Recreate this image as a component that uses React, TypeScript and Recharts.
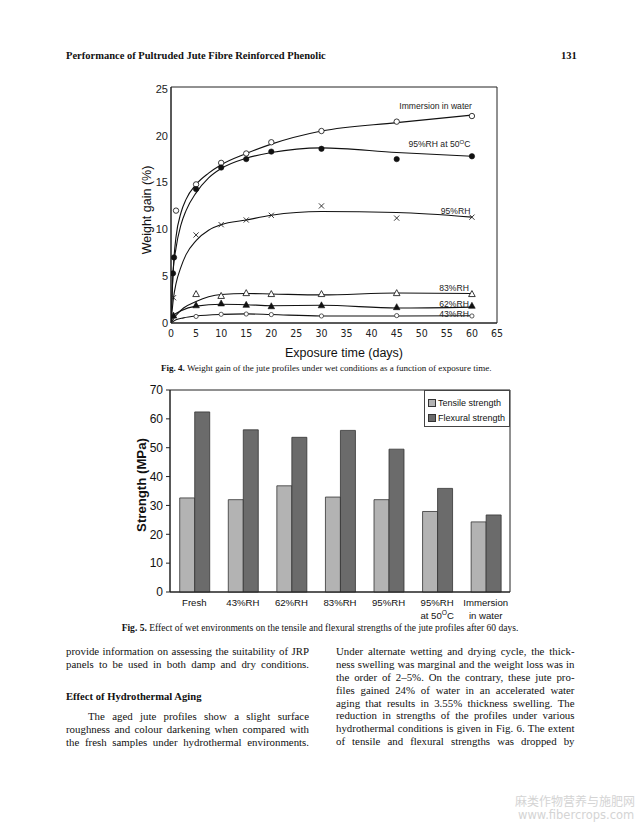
import React from 'react';
import {
  ComposedChart, Line, Scatter, XAxis, YAxis, ReferenceArea,
  BarChart, Bar, Legend,
} from 'recharts';

// ---------- Fig. 4 data (weight gain %, exposure days) ----------
const dayTicks = [0, 5, 10, 15, 20, 25, 30, 35, 40, 45, 50, 55, 60, 65];
const gainTicks = [0, 5, 10, 15, 20, 25];

const immersionPts = [
  { x: 1, y: 12.0 }, { x: 5, y: 14.8 }, { x: 10, y: 17.1 }, { x: 15, y: 18.1 },
  { x: 20, y: 19.3 }, { x: 30, y: 20.5 }, { x: 45, y: 21.5 }, { x: 60, y: 22.1 },
];
const rh95at50Pts = [
  { x: 0.4, y: 5.3 }, { x: 0.6, y: 7.0 }, { x: 5, y: 14.3 }, { x: 10, y: 16.6 },
  { x: 15, y: 17.5 }, { x: 20, y: 18.3 }, { x: 30, y: 18.6 }, { x: 45, y: 17.5 }, { x: 60, y: 17.8 },
];
const rh95Pts = [
  { x: 0.5, y: 2.7 }, { x: 5, y: 9.4 }, { x: 10, y: 10.5 }, { x: 15, y: 11.0 },
  { x: 20, y: 11.5 }, { x: 30, y: 12.5 }, { x: 45, y: 11.2 }, { x: 60, y: 11.3 },
];
const rh83Pts = [
  { x: 5, y: 3.1 }, { x: 10, y: 2.9 }, { x: 15, y: 3.2 }, { x: 20, y: 3.1 },
  { x: 30, y: 3.1 }, { x: 45, y: 3.2 }, { x: 60, y: 3.1 },
];
const rh62Pts = [
  { x: 0.5, y: 0.8 }, { x: 5, y: 1.9 }, { x: 10, y: 2.1 }, { x: 15, y: 1.95 },
  { x: 20, y: 1.8 }, { x: 30, y: 1.9 }, { x: 45, y: 1.7 }, { x: 60, y: 1.85 },
];
const rh43Pts = [
  { x: 5, y: 0.7 }, { x: 10, y: 0.93 }, { x: 15, y: 0.96 }, { x: 20, y: 0.9 },
  { x: 30, y: 0.75 }, { x: 45, y: 0.79 }, { x: 60, y: 0.75 },
];

// fitted curves
const immersionCurve = [
  { x: 0, y: 0 }, { x: 0.3, y: 4 }, { x: 0.6, y: 7 }, { x: 1, y: 9.2 }, { x: 2, y: 11.8 },
  { x: 3, y: 13.2 }, { x: 5, y: 14.8 }, { x: 7.5, y: 16.0 }, { x: 10, y: 16.9 }, { x: 15, y: 18.1 },
  { x: 20, y: 19.1 }, { x: 30, y: 20.5 }, { x: 45, y: 21.4 }, { x: 60, y: 22.2 },
];
const rh95at50Curve = [
  { x: 0, y: 0 }, { x: 0.4, y: 5.3 }, { x: 1, y: 8 }, { x: 2, y: 10.5 }, { x: 3, y: 12 },
  { x: 5, y: 13.9 }, { x: 7.5, y: 15.5 }, { x: 10, y: 16.5 }, { x: 15, y: 17.6 }, { x: 20, y: 18.2 },
  { x: 30, y: 18.7 }, { x: 45, y: 18.2 }, { x: 60, y: 17.8 },
];
const rh95Curve = [
  { x: 0, y: 0 }, { x: 0.5, y: 2.7 }, { x: 1, y: 4.2 }, { x: 2, y: 6 }, { x: 3, y: 7.3 },
  { x: 5, y: 8.8 }, { x: 7.5, y: 9.9 }, { x: 10, y: 10.5 }, { x: 15, y: 11.0 }, { x: 20, y: 11.5 },
  { x: 30, y: 11.9 }, { x: 45, y: 11.8 }, { x: 60, y: 11.3 },
];
const rh83Curve = [
  { x: 0, y: 0 }, { x: 1, y: 0.8 }, { x: 2.5, y: 1.6 }, { x: 5, y: 2.3 }, { x: 7.5, y: 2.8 },
  { x: 10, y: 3.05 }, { x: 15, y: 3.15 }, { x: 20, y: 3.1 }, { x: 30, y: 3.0 }, { x: 45, y: 3.2 }, { x: 60, y: 3.15 },
];
const rh62Curve = [
  { x: 0, y: 0 }, { x: 0.5, y: 0.8 }, { x: 2, y: 1.3 }, { x: 5, y: 1.8 }, { x: 10, y: 2.0 },
  { x: 15, y: 1.95 }, { x: 20, y: 1.85 }, { x: 30, y: 1.9 }, { x: 45, y: 1.6 }, { x: 60, y: 1.7 },
];
const rh43Curve = [
  { x: 0, y: 0 }, { x: 1, y: 0.35 }, { x: 2.5, y: 0.55 }, { x: 5, y: 0.75 }, { x: 10, y: 0.92 },
  { x: 15, y: 0.97 }, { x: 20, y: 0.9 }, { x: 30, y: 0.75 }, { x: 45, y: 0.75 }, { x: 60, y: 0.78 },
];

const curveLabels = [
  { x: 60, y: 23.2, text: 'Immersion in water' },
  { x: 59.7, y: 19.1, text: '95%RH at 50^OC' },
  { x: 59.7, y: 12.0, text: '95%RH' },
  { x: 59.4, y: 3.7, text: '83%RH' },
  { x: 59.4, y: 2.07, text: '62%RH' },
  { x: 59.4, y: 1.0, text: '43%RH' },
];

// ---------- Fig. 5 data (strength MPa) ----------
const conditions = ['Fresh', '43%RH', '62%RH', '83%RH', '95%RH', '95%RH\nat 50^OC', 'Immersion\nin water'];
const tensileStrength = [32.6, 32.0, 36.8, 32.9, 32.0, 27.9, 24.3];
const flexuralStrength = [62.4, 56.2, 53.6, 56.0, 49.5, 35.9, 26.7];
const strengthTicks = [0, 10, 20, 30, 40, 50, 60, 70];
const legendOrder = ['Tensile strength', 'Flexural strength'];

const barData = conditions.map((c, i) => ({
  name: c, tensile: tensileStrength[i], flexural: flexuralStrength[i],
}));

// ---------- page text ----------
const leftLines = [
  { t: 'provide information on assessing the suitability of JRP', y: 651 },
  { t: 'panels to be used in both damp and dry conditions.', y: 664 },
  { t: 'The aged jute profiles show a slight surface', y: 716, indent: 22 },
  { t: 'roughness and colour darkening when compared with', y: 729 },
  { t: 'the fresh samples under hydrothermal environments.', y: 742 },
];
const rightLines = [
  { t: 'Under alternate wetting and drying cycle, the thick-', y: 651 },
  { t: 'ness swelling was marginal and the weight loss was in', y: 664 },
  { t: 'the order of 2–5%. On the contrary, these jute pro-', y: 677 },
  { t: 'files gained 24% of water in an accelerated water', y: 690 },
  { t: 'aging that results in 3.55% thickness swelling. The', y: 703 },
  { t: 'reduction in strengths of the profiles under various', y: 715.5 },
  { t: 'hydrothermal conditions is given in Fig. 6. The extent', y: 728 },
  { t: 'of tensile and flexural strengths was dropped by', y: 741 },
];

const SANS = "'Liberation Sans', Arial, sans-serif";
const SERIF = "'Liberation Serif', 'Times New Roman', serif";
const NARROW = "'DejaVu Sans Condensed', 'Liberation Sans Narrow', 'Liberation Sans', sans-serif";

// render text with "^X" => superscript X
function rich(s: string, fs: number) {
  const parts = s.split('^');
  if (parts.length === 1) return s;
  const sup = parts[1].charAt(0);
  const rest = parts[1].slice(1);
  return [
    <tspan key="a">{parts[0]}</tspan>,
    <tspan key="b" dy={-fs * 0.4} fontSize={fs * 0.7}>{sup}</tspan>,
    <tspan key="c" dy={fs * 0.4}>{rest}</tspan>,
  ];
}

// ---------- markers ----------
const OpenCircle = (p: any) => <circle cx={p.cx} cy={p.cy} r={2.7} fill="#fff" stroke="#222" strokeWidth={0.9} />;
const FilledCircle = (p: any) => <circle cx={p.cx} cy={p.cy} r={2.7} fill="#111" stroke="#111" strokeWidth={0.6} />;
const SmallCircle = (p: any) => <circle cx={p.cx} cy={p.cy} r={2.1} fill="#fff" stroke="#333" strokeWidth={0.8} />;
const Cross = (p: any) => (
  <g stroke="#222" strokeWidth={0.9}>
    <line x1={p.cx - 2.6} y1={p.cy - 2.6} x2={p.cx + 2.6} y2={p.cy + 2.6} />
    <line x1={p.cx - 2.6} y1={p.cy + 2.6} x2={p.cx + 2.6} y2={p.cy - 2.6} />
  </g>
);
const OpenTri = (p: any) => (
  <polygon points={`${p.cx},${p.cy - 3.4} ${p.cx - 3.3},${p.cy + 2.6} ${p.cx + 3.3},${p.cy + 2.6}`} fill="#fff" stroke="#222" strokeWidth={0.9} />
);
const FilledTri = (p: any) => (
  <polygon points={`${p.cx},${p.cy - 3.4} ${p.cx - 3.3},${p.cy + 2.6} ${p.cx + 3.3},${p.cy + 2.6}`} fill="#111" stroke="#111" strokeWidth={0.6} />
);
const CurveLabel = (p: any) => (
  <text x={p.cx} y={p.cy + 3} textAnchor="end" fontFamily={SANS} fontSize={8.6} fill="#222">
    {rich(p.payload.text, 8.6)}
  </text>
);

const BarTick = (p: any) => {
  const lines = String(p.payload.value).split('\n');
  return (
    <text x={p.x} y={p.y} textAnchor="middle" fontFamily={SANS} fontSize={9.6} fill="#111">
      {lines.map((ln, i) => (
        <tspan key={i} x={p.x} dy={i === 0 ? 14 : 13}>{rich(ln, 9.6)}</tspan>
      ))}
    </text>
  );
};

const BarLegend = (props: any) => {
  const items = [...(props.payload || [])].sort(
    (a: any, b: any) => legendOrder.indexOf(a.value) - legendOrder.indexOf(b.value),
  );
  return (
    <div style={{
      border: '1px solid #444', background: '#fff', width: 86, height: 37, boxSizing: 'border-box',
      padding: '5px 0 0 3px', fontFamily: SANS, fontSize: 9, color: '#111',
    }}>
      {items.map((e: any) => (
        <div key={e.value} style={{ display: 'flex', alignItems: 'center', height: 14.4, whiteSpace: 'nowrap' }}>
          <span style={{ display: 'inline-block', width: 6, height: 6, background: e.color, border: '1px solid #333', marginRight: 2 }} />
          {e.value}
        </div>
      ))}
    </div>
  );
};

function WeightChart() {
  return (
    <ComposedChart width={410} height={290} margin={{ top: 12, right: 23, left: 0, bottom: 0 }}>
      <XAxis
        type="number" dataKey="x" domain={[0, 65]} ticks={dayTicks} allowDataOverflow
        height={42} tickLine={false} tickSize={0} tickMargin={7}
        axisLine={{ stroke: '#222' }}
        tick={{ fontFamily: NARROW, fontSize: 10.5, fill: '#222' }}
        label={{
          content: (pp: any) => {
            const vb = pp.viewBox;
            return (
              <text x={vb.x + vb.width / 2 + 10} y={vb.y + 33.5} textAnchor="middle" fontFamily={SANS} fontSize={12.5} fill="#111">
                Exposure time (days)
              </text>
            );
          },
        }}
      />
      <YAxis
        type="number" dataKey="y" domain={[0, 25.2]} ticks={gainTicks} allowDataOverflow
        width={61} tickLine={false} tickSize={0} tickMargin={3}
        axisLine={{ stroke: '#222' }}
        tick={{ fontFamily: SANS, fontSize: 11, fill: '#222' }}
        label={{
          content: (pp: any) => {
            const vb = pp.viewBox;
            const cx = vb.x + 41;
            const cy = vb.y + vb.height / 2 + 5;
            return (
              <text x={cx} y={cy} transform={`rotate(-90, ${cx}, ${cy})`} textAnchor="middle" fontFamily={SANS} fontSize={12.5} fill="#111">
                Weight gain (%)
              </text>
            );
          },
        }}
      />
      <ReferenceArea y1={0} y2={25.2} fill="none" stroke="#222" strokeWidth={1} />
      <Line data={immersionCurve} dataKey="y" type="monotone" dot={false} stroke="#111" strokeWidth={1.1} isAnimationActive={false} />
      <Line data={rh95at50Curve} dataKey="y" type="monotone" dot={false} stroke="#111" strokeWidth={1.1} isAnimationActive={false} />
      <Line data={rh95Curve} dataKey="y" type="monotone" dot={false} stroke="#111" strokeWidth={1.1} isAnimationActive={false} />
      <Line data={rh83Curve} dataKey="y" type="monotone" dot={false} stroke="#111" strokeWidth={1.1} isAnimationActive={false} />
      <Line data={rh62Curve} dataKey="y" type="monotone" dot={false} stroke="#111" strokeWidth={1.1} isAnimationActive={false} />
      <Line data={rh43Curve} dataKey="y" type="monotone" dot={false} stroke="#111" strokeWidth={1.1} isAnimationActive={false} />
      <Scatter data={immersionPts} dataKey="y" shape={OpenCircle} isAnimationActive={false} />
      <Scatter data={rh95at50Pts} dataKey="y" shape={FilledCircle} isAnimationActive={false} />
      <Scatter data={rh95Pts} dataKey="y" shape={Cross} isAnimationActive={false} />
      <Scatter data={rh83Pts} dataKey="y" shape={OpenTri} isAnimationActive={false} />
      <Scatter data={rh62Pts} dataKey="y" shape={FilledTri} isAnimationActive={false} />
      <Scatter data={rh43Pts} dataKey="y" shape={SmallCircle} isAnimationActive={false} />
      <Scatter data={curveLabels} dataKey="y" shape={CurveLabel} isAnimationActive={false} />
    </ComposedChart>
  );
}

function StrengthChart() {
  return (
    <BarChart width={410} height={252} data={barData} margin={{ top: 10, right: 10, left: 0, bottom: 0 }}
      barCategoryGap="20%" barGap={0}>
      <XAxis
        dataKey="name" height={40} tickLine={false} tickSize={0} tickMargin={0}
        axisLine={{ stroke: '#222' }} interval={0} tick={<BarTick />}
      />
      <YAxis
        domain={[0, 70]} ticks={strengthTicks} width={60} tickSize={4} tickMargin={3}
        axisLine={{ stroke: '#222' }} tickLine={{ stroke: '#222' }}
        tick={{ fontFamily: SANS, fontSize: 12, fill: '#111' }}
        label={{
          content: (pp: any) => {
            const vb = pp.viewBox;
            const cx = vb.x + 35.5;
            const cy = vb.y + vb.height / 2 - 6;
            return (
              <text x={cx} y={cy} transform={`rotate(-90, ${cx}, ${cy})`} textAnchor="middle" fontFamily={SANS} fontWeight="bold" fontSize={13.2} fill="#111">
                Strength (MPa)
              </text>
            );
          },
        }}
      />
      <Legend
        layout="vertical" align="center" verticalAlign="middle"
        wrapperStyle={{ position: 'absolute', top: 10, left: 314, width: 86, height: 37 }}
        content={<BarLegend />}
      />
      <Bar dataKey="tensile" name="Tensile strength" fill="#b3b3b3" stroke="#333" strokeWidth={0.8} isAnimationActive={false} />
      <Bar dataKey="flexural" name="Flexural strength" fill="#6b6b6b" stroke="#333" strokeWidth={0.8} isAnimationActive={false} />
      <ReferenceArea y1={0} y2={70} fill="none" stroke="#222" strokeWidth={1} />
    </BarChart>
  );
}

const lineStyle = (y: number, left: number, width: number, extra: any = {}) => ({
  position: 'absolute' as const, left, top: y - 6.5, width, height: 13, lineHeight: '13px',
  fontFamily: SERIF, fontSize: 10.85, color: '#111', whiteSpace: 'nowrap' as const,
  textAlign: 'justify' as const, textAlignLast: 'justify' as const, ...extra,
});

export default function App() {
  return (
    <div style={{ position: 'absolute', left: 0, top: 0, width: 642, height: 828, background: '#fff', overflow: 'hidden' }}>
      <div style={{ position: 'absolute', left: 66, top: 50, fontFamily: SERIF, fontWeight: 'bold', fontSize: 10.5, lineHeight: '12px', whiteSpace: 'nowrap', color: '#111' }}>
        Performance of Pultruded Jute Fibre Reinforced Phenolic
      </div>
      <div style={{ position: 'absolute', left: 561, top: 50, fontFamily: SERIF, fontWeight: 'bold', fontSize: 10.5, lineHeight: '12px', color: '#111' }}>
        131
      </div>

      <div style={{ position: 'absolute', left: 110, top: 75 }}>
        <WeightChart />
      </div>
      <div style={{ position: 'absolute', left: 161, width: 330, top: 362, textAlign: 'center', fontFamily: SERIF, fontSize: 9.05, lineHeight: '12px', whiteSpace: 'nowrap', color: '#111' }}>
        <b>Fig. 4.</b> Weight gain of the jute profiles under wet conditions as a function of exposure time.
      </div>

      <div style={{ position: 'absolute', left: 110, top: 380 }}>
        <StrengthChart />
      </div>
      <div style={{ position: 'absolute', left: 120, width: 400, top: 622, textAlign: 'center', fontFamily: SERIF, fontSize: 9.55, lineHeight: '12px', whiteSpace: 'nowrap', color: '#111' }}>
        <b>Fig. 5.</b> Effect of wet environments on the tensile and flexural strengths of the jute profiles after 60 days.
      </div>

      {leftLines.map((l, i) => (
        <div key={'l' + i} style={lineStyle(l.y, 66 + (l.indent || 0), 243 - (l.indent || 0))}>{l.t}</div>
      ))}
      <div style={{ position: 'absolute', left: 66, top: 690, fontFamily: SERIF, fontWeight: 'bold', fontSize: 10.6, lineHeight: '13px', whiteSpace: 'nowrap', color: '#111' }}>
        Effect of Hydrothermal Aging
      </div>
      {rightLines.map((l, i) => (
        <div key={'r' + i} style={lineStyle(l.y, 336, 238.5)}>{l.t}</div>
      ))}

      <div style={{ position: 'absolute', left: 515, top: 793, fontFamily: "'Noto Sans CJK SC', sans-serif", fontSize: 12, lineHeight: '15px', color: '#d4d4d4', whiteSpace: 'nowrap' }}>
        麻类作物营养与施肥网
      </div>
      <div style={{ position: 'absolute', left: 518, top: 808, fontFamily: "'DejaVu Sans', sans-serif", fontSize: 11.5, lineHeight: '14px', color: '#d4d4d4', whiteSpace: 'nowrap' }}>
        www.fibercrops.com
      </div>
    </div>
  );
}
